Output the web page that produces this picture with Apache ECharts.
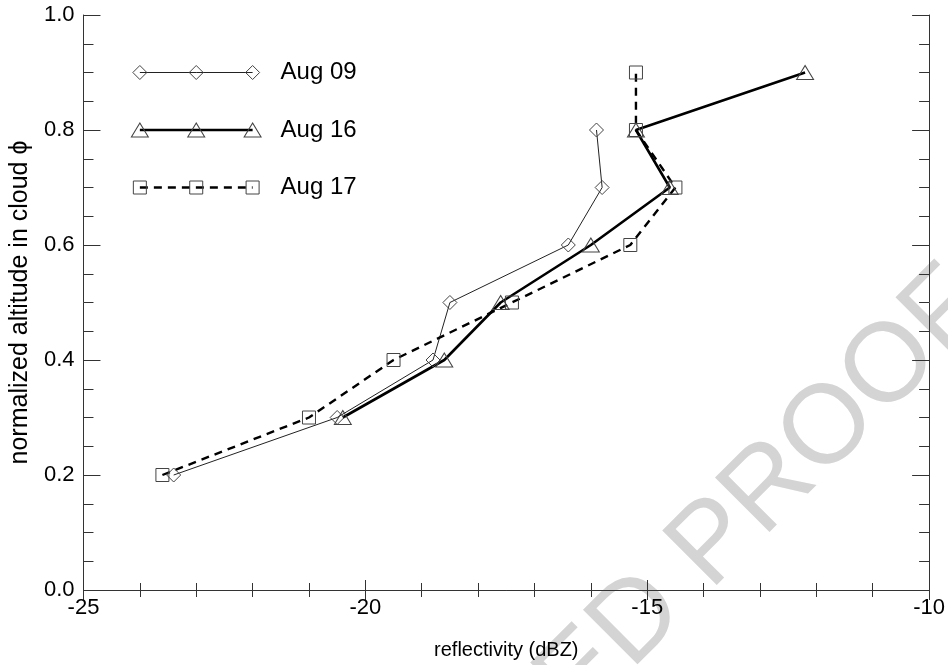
<!DOCTYPE html>
<html>
<head>
<meta charset="utf-8">
<title>reflectivity vs normalized altitude</title>
<script src="https://cdn.jsdelivr.net/npm/echarts@6/dist/echarts.min.js"></script>
<style>
  html, body { margin: 0; padding: 0; background: #fff; }
  #chart { width: 948px; height: 665px; }
</style>
</head>
<body>
<div id="chart"></div>
<script>
// data: reflectivity (dBZ) per normalized altitude
var phiAug09 = [0.2, 0.3, 0.4, 0.5, 0.6, 0.7, 0.8];
var dbzAug09 = [-23.4, -20.5, -18.8, -18.5, -16.4, -15.8, -15.9];

var phiAug16 = [0.3, 0.4, 0.5, 0.6, 0.7, 0.8, 0.9];
var dbzAug16 = [-20.4, -18.6, -17.6, -16.0, -14.6, -15.2, -12.2];

var phiAug17 = [0.2, 0.3, 0.4, 0.5, 0.6, 0.7, 0.8, 0.9];
var dbzAug17 = [-23.6, -21.0, -19.5, -17.4, -15.3, -14.5, -15.2, -15.2];

var seriesNames = ['Aug 09', 'Aug 16', 'Aug 17'];
var xTickLabels = [-25, -20, -15, -10];
var yTickLabels = [0.0, 0.2, 0.4, 0.6, 0.8, 1.0];

var FONT = '"Liberation Sans", Arial, Helvetica, sans-serif';

function pairs(xs, ys) {
  var out = [];
  for (var i = 0; i < xs.length; i++) out.push([xs[i], ys[i]]);
  return out;
}

// look of each series
var looks = [
  { symbol: 'diamond',  size: [14, 14], line: { color: '#222', width: 1,   type: 'solid' } },
  { symbol: 'triangle', size: [17, 14], line: { color: '#000', width: 2.6, type: 'solid' } },
  { symbol: 'rect',     size: [13, 13], line: { color: '#000', width: 2.4, type: [8, 6] } }
];
var curves = [pairs(dbzAug09, phiAug09), pairs(dbzAug16, phiAug16), pairs(dbzAug17, phiAug17)];

// legend key is drawn inside the plot, in axis units
var keyX = [-24, -23, -22];
var keyPhi = [0.9, 0.8, 0.7];

var series = [];
for (var s = 0; s < 3; s++) {
  var base = {
    type: 'line',
    symbol: looks[s].symbol,
    symbolSize: looks[s].size,
    showAllSymbol: true,
    lineStyle: looks[s].line,
    itemStyle: { color: 'rgba(0,0,0,0)', borderColor: '#444', borderWidth: 1 },
    emphasis: { disabled: true },
    silent: true,
    animation: false
  };
  series.push(Object.assign({}, base, { name: seriesNames[s], data: curves[s] }));
  var keyData = keyX.map(function (x) { return [x, keyPhi[s]]; });
  series.push(Object.assign({}, base, {
    name: seriesNames[s] + ' key',
    data: keyData,
    endLabel: {
      show: true,
      formatter: seriesNames[s],
      distance: 28,
      color: '#000',
      fontFamily: FONT,
      fontSize: 24
    }
  }));
}

var chart = echarts.init(document.getElementById('chart'));
var option = {
  backgroundColor: '#fff',
  animation: false,
  grid: { left: 81, right: 18, top: 15, bottom: 74 },
  graphic: [{
    type: 'text',
    z: -10,
    silent: true,
    x: 970,
    y: 288,
    rotation: Math.PI / 4,
    style: {
      text: 'UNCORRECTED PROOF',
      fill: '#d4d4d4',
      font: '112px ' + FONT,
      align: 'right',
      verticalAlign: 'middle',
      textAlign: 'right',
      textVerticalAlign: 'middle'
    }
  }],
  xAxis: [{
    type: 'value',
    min: xTickLabels[0],
    max: xTickLabels[xTickLabels.length - 1],
    interval: xTickLabels[1] - xTickLabels[0],
    name: 'reflectivity (dBZ)',
    nameLocation: 'middle',
    nameGap: 50,
    nameTextStyle: { color: '#000', fontFamily: FONT, fontSize: 20 },
    axisLine: { show: true, lineStyle: { color: '#333', width: 1 } },
    axisTick: { show: true, inside: true, length: 10, lineStyle: { color: '#333' } },
    minorTick: { show: true, splitNumber: 5, length: 7, lineStyle: { color: '#333' } },
    axisLabel: { color: '#000', fontFamily: FONT, fontSize: 22, margin: 7 },
    splitLine: { show: false }
  }, {
    type: 'value',
    position: 'top',
    min: xTickLabels[0],
    max: xTickLabels[xTickLabels.length - 1],
    interval: xTickLabels[1] - xTickLabels[0],
    axisLine: { show: true, lineStyle: { color: '#333', width: 1 } },
    axisTick: { show: true, inside: true, length: 10, lineStyle: { color: '#333' } },
    minorTick: { show: true, splitNumber: 5, length: 7, lineStyle: { color: '#333' } },
    axisLabel: { show: false },
    splitLine: { show: false }
  }],
  yAxis: [{
    type: 'value',
    min: yTickLabels[0],
    max: yTickLabels[yTickLabels.length - 1],
    interval: yTickLabels[1] - yTickLabels[0],
    name: 'normalized altitude in cloud \u03d5',
    nameLocation: 'middle',
    nameGap: 50,
    nameTextStyle: { color: '#000', fontFamily: FONT, fontSize: 25 },
    axisLine: { show: true, lineStyle: { color: '#333', width: 1 } },
    axisTick: { show: true, inside: true, length: 17, lineStyle: { color: '#333' } },
    minorTick: { show: true, splitNumber: 4, length: 10, lineStyle: { color: '#333' } },
    axisLabel: {
      color: '#000', fontFamily: FONT, fontSize: 22, margin: 9,
      formatter: function (v) { return v.toFixed(1); }
    },
    splitLine: { show: false }
  }, {
    type: 'value',
    position: 'right',
    min: yTickLabels[0],
    max: yTickLabels[yTickLabels.length - 1],
    interval: yTickLabels[1] - yTickLabels[0],
    axisLine: { show: true, lineStyle: { color: '#333', width: 1 } },
    axisTick: { show: true, inside: true, length: 17, lineStyle: { color: '#333' } },
    minorTick: { show: true, splitNumber: 4, length: 10, lineStyle: { color: '#333' } },
    axisLabel: { show: false },
    splitLine: { show: false }
  }],
  series: series
};
chart.setOption(option);
</script>
</body>
</html>
